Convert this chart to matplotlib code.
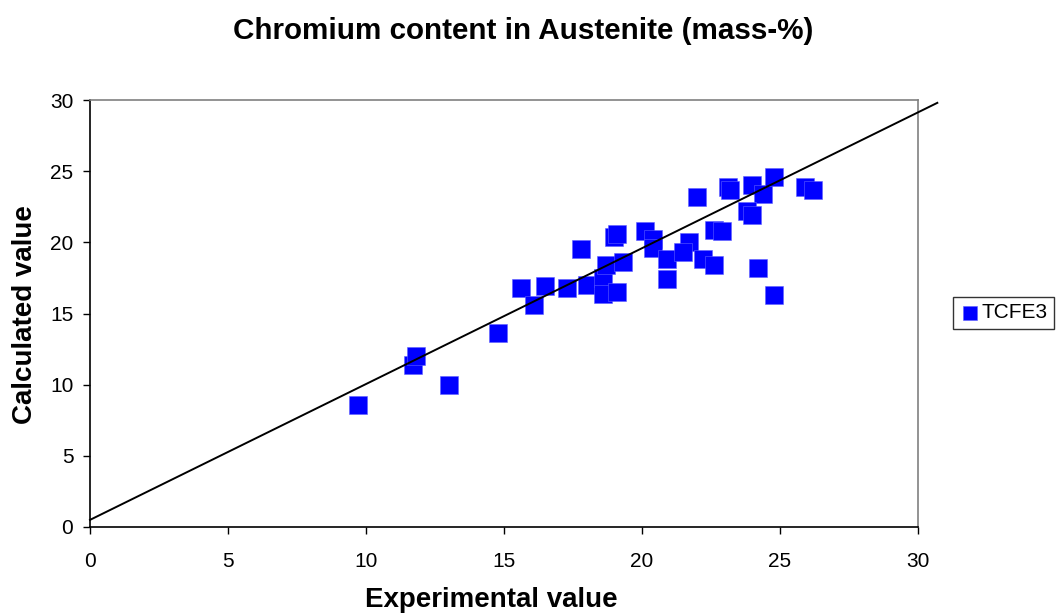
import numpy as np
import matplotlib.pyplot as plt

plt.rcParams['font.family'] = ['Liberation Sans', 'DejaVu Sans']

# experimental vs calculated Cr content (mass-%)
exp_val = [9.7, 11.7, 11.8, 13.0, 14.8, 15.6, 16.1, 16.5, 17.3, 17.8, 18.0,
           18.6, 18.7, 18.6, 19.1, 19.3, 19.0, 19.1, 20.1, 20.4, 20.4, 20.9,
           20.9, 21.7, 21.5, 22.2, 22.6, 22.0, 22.6, 22.9, 23.1, 23.2, 24.0,
           24.4, 23.8, 24.0, 24.2, 24.8, 24.8, 25.9, 26.2]
calc_val = [8.6, 11.4, 12.0, 10.0, 13.6, 16.8, 15.6, 16.9, 16.8, 19.5, 17.0,
            17.5, 18.4, 16.4, 16.5, 18.6, 20.4, 20.6, 20.8, 20.2, 19.6, 18.8,
            17.4, 20.0, 19.3, 18.8, 18.4, 23.2, 20.9, 20.8, 23.9, 23.7, 24.0,
            23.4, 22.2, 21.9, 18.2, 24.6, 16.3, 23.9, 23.7]

# reference line
line_x = [0, 30.7]
line_y = [0.5, 29.8]

W, H = 1056, 615
fig = plt.figure(figsize=(W / 100, H / 100), dpi=100)
ax = fig.add_axes([90 / W, 1 - 527 / H, 828 / W, 427 / H])

ax.scatter(exp_val, calc_val, marker='s', s=170, color='#0000FF',
           edgecolors='#6060ff', linewidths=0.4, label='TCFE3', zorder=3)
ax.plot(line_x, line_y, color='black', lw=1.4, clip_on=False, zorder=4)

ax.set_xlim(0, 30)
ax.set_ylim(0, 30)
ax.set_xticks(range(0, 31, 5))
ax.set_yticks(range(0, 31, 5))
ax.tick_params(direction='out', length=5, width=1, labelsize=15,
               color='black')
ax.tick_params(axis='x', pad=13)
ax.tick_params(axis='y', pad=7)

for side in ['top', 'right']:
    ax.spines[side].set_color('#808080')
    ax.spines[side].set_linewidth(1.2)
for side in ['left', 'bottom']:
    ax.spines[side].set_color('black')
    ax.spines[side].set_linewidth(1.2)

fig.text(491 / W, 1 - 600 / H, 'Experimental value', fontsize=20,
         fontweight='bold', ha='center', va='center')
fig.text(25 / W, 1 - 315 / H, 'Calculated value', fontsize=20,
         fontweight='bold', ha='center', va='center', rotation=90)
fig.text(523 / W, 1 - 31 / H, 'Chromium content in Austenite (mass-%)',
         fontsize=21.3, fontweight='bold', ha='center', va='center')

leg = ax.legend(loc='center left', bbox_to_anchor=(953 / W, 1 - 313 / H),
                bbox_transform=fig.transFigure, fontsize=15,
                frameon=True, fancybox=False, edgecolor='black',
                handletextpad=0.05, markerscale=0.72, borderpad=0.3,
                handlelength=1.0, borderaxespad=0)
leg.get_frame().set_linewidth(1.0)

fig.savefig('out.png', dpi=100)
